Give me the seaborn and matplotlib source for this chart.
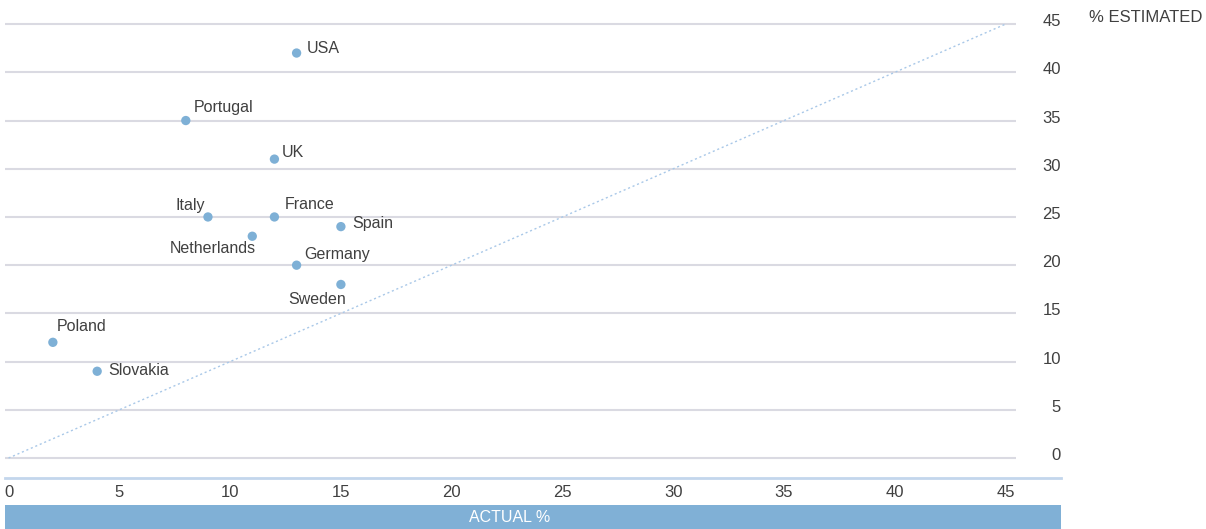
import matplotlib
matplotlib.use('Agg')
import matplotlib.pyplot as plt
import matplotlib.transforms as mtransforms
from matplotlib.patches import Rectangle
import seaborn as sns
import pandas as pd

countries = ['USA', 'Portugal', 'UK', 'Italy', 'France', 'Spain',
             'Netherlands', 'Germany', 'Sweden', 'Poland', 'Slovakia']
actual = [13, 8, 12, 9, 12, 15, 11, 13, 15, 2, 4]
estimated = [42, 35, 31, 25, 25, 24, 23, 20, 18, 12, 9]
ticks = [0, 5, 10, 15, 20, 25, 30, 35, 40, 45]

# label offsets in pixels (dx, dy, ha)
offsets = {
    'USA': (10, 5, 'left'), 'Portugal': (8, 13, 'left'), 'UK': (7, 7, 'left'),
    'Italy': (-3, 11, 'right'), 'France': (10, 12, 'left'), 'Spain': (11, 3, 'left'),
    'Netherlands': (4, -12, 'right'), 'Germany': (8, 11, 'left'),
    'Sweden': (5, -15, 'right'), 'Poland': (4, 16, 'left'), 'Slovakia': (11, 1, 'left'),
}

df = pd.DataFrame({'country': countries, 'actual': actual, 'estimated': estimated})

sns.set_style('white')
plt.rcParams['font.family'] = ['Liberation Sans', 'DejaVu Sans']

text_col = '#404040'
dot_col = '#7eb0d6'

fig = plt.figure(figsize=(12.06, 5.29), dpi=100)
ax = fig.add_axes([5 / 1206, 51 / 529, 1056 / 1206, 478 / 529])

ax.set_xlim(-0.16, 47.5)
ax.set_ylim(-2.07, 47.5)

# grid lines
ax.hlines(ticks, -0.18, 45.46, color='#dadae2', lw=1.5, zorder=0)
# diagonal
ax.plot([0, 45], [0, 45], ls=(0, (1.5, 2)), color='#a9c8e8', lw=1, zorder=1)

sns.scatterplot(data=df, x='actual', y='estimated', ax=ax, s=45,
                color=dot_col, edgecolor='none', zorder=3)

for c, x, y in zip(countries, actual, estimated):
    dx, dy, ha = offsets[c]
    ax.annotate(c, (x, y), xytext=(dx, dy), textcoords='offset pixels',
                ha=ha, va='center', fontsize=11.5, color=text_col)

for s in ['top', 'left', 'right']:
    ax.spines[s].set_visible(False)
ax.spines['bottom'].set_color('#c3d6ec')
ax.spines['bottom'].set_linewidth(2)

ax.set_xticks(ticks)
ax.set_xticklabels([str(t) for t in ticks])
ax.tick_params(axis='x', length=0, pad=5, labelsize=12, labelcolor=text_col)

ax.yaxis.tick_right()
ax.set_yticks(ticks)
ax.set_yticklabels([str(t) for t in ticks])
ax.tick_params(axis='y', length=0, pad=0, labelsize=12, labelcolor=text_col)
shift = mtransforms.ScaledTranslation(0, 4 / 100, fig.dpi_scale_trans)
for lab in ax.get_yticklabels():
    lab.set_ha('right')
    lab.set_transform(lab.get_transform() + shift)

ax.set_xlabel('')
ax.set_ylabel('')

# bottom bar with axis title
bar = Rectangle((5 / 1206, 0), 1056 / 1206, 24 / 529, transform=fig.transFigure,
                facecolor='#80b0d6', edgecolor='none', zorder=-1)
fig.patches.append(bar)
fig.text(510 / 1206, 12 / 529, 'ACTUAL %', ha='center', va='center',
         color='white', fontsize=11.5, zorder=5)

fig.text(1089 / 1206, 1 - 18 / 529, '% ESTIMATED', ha='left', va='center',
         fontsize=12, color=text_col)

fig.savefig('out.png', dpi=100)
